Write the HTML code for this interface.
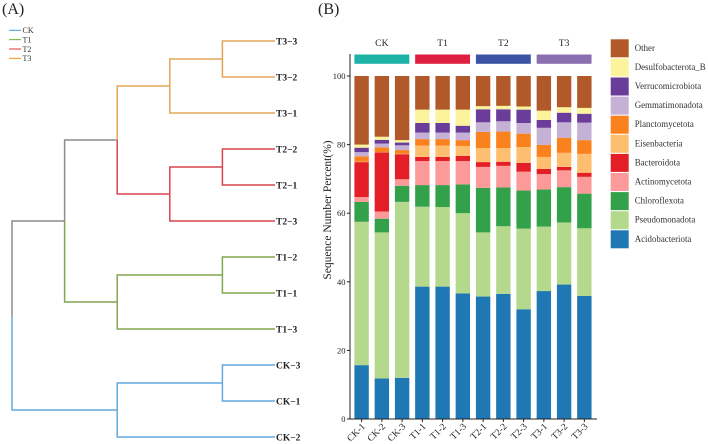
<!DOCTYPE html>
<html>
<head>
<meta charset="utf-8">
<title>Dendrogram and stacked bar chart</title>
<style>
html,body{margin:0;padding:0;background:#fff;width:708px;height:444px;overflow:hidden}
svg{display:block;font-family:"Liberation Serif",serif}
</style>
</head>
<body>
<svg id="figure" width="708" height="444" viewBox="0 0 708 444" xmlns="http://www.w3.org/2000/svg">
  <rect width="708" height="444" fill="#fff"/>
  <text x="2" y="14" font-size="16" fill="#222">(A)</text>
  <text x="318" y="14" font-size="16" fill="#222">(B)</text>
  <g id="dendro"></g>
  <g id="dendro-legend"></g>
  <g id="bars"></g>
  <g id="groups"></g>
  <g id="axes"></g>
  <g id="legend"></g>
  <text transform="translate(331,210) rotate(-90)" text-anchor="middle" font-size="11.5" fill="#222">Sequence Number Percent(%)</text>
</svg>
<script>
// ---------- stacked bar data ----------
const samples = ['CK-1','CK-2','CK-3','T1-1','T1-2','T1-3','T2-1','T2-2','T2-3','T3-1','T3-2','T3-3'];
const yTicks = [0,20,40,60,80,100];
const seriesNames = ['Acidobacteriota','Pseudomonadota','Chloroflexota','Actinomycetota','Bacteroidota','Eisenbacteria','Planctomycetota','Gemmatimonadota','Verrucomicrobiota','Desulfobacterota_B','Other'];
const seriesColors = ['#1F78B4','#B5D98C','#33A04A','#FB9A99','#E31E26','#FDBF6F','#F9821F','#C6B1D6','#6A3D9A','#FBF49C','#B15928'];
const acidobacteriota   = [15.7,11.8,12.0,38.6,38.6,36.6,35.7,36.5,32.0,37.3,39.2,35.9];
const pseudomonadota    = [41.8,42.6,51.3,23.3,23.2,23.4,18.7,19.7,23.5,18.8,18.1,19.7];
const chloroflexota     = [5.8,4.0,4.7,6.3,6.4,8.4,13.0,11.3,11.1,10.8,10.3,10.1];
const actinomycetota    = [1.4,2.1,1.9,7.0,7.0,6.8,6.1,6.3,5.5,4.5,4.9,4.9];
const bacteroidota      = [10.2,17.2,7.3,1.2,1.2,1.5,1.4,1.2,2.6,1.5,1.0,1.2];
const eisenbacteria     = [0.1,0.1,0.1,3.3,3.3,2.9,4.1,4.0,4.6,3.5,4.1,5.5];
const planctomycetota   = [1.6,1.4,1.1,1.9,1.9,1.7,4.7,4.8,3.9,3.5,4.4,4.0];
const gemmatimonadota   = [1.2,1.1,1.4,1.9,1.9,2.2,2.8,3.0,3.1,5.0,4.5,5.1];
const verrucomicrobiota = [1.3,1.1,0.8,2.8,2.8,2.0,3.8,3.5,3.9,2.3,2.8,2.6];
const desulfobacterota  = [0.9,0.9,0.7,3.9,3.9,4.7,0.9,1.0,0.9,2.7,1.6,1.7];
const other             = [20.0,17.7,18.7,9.8,9.8,9.8,8.8,8.7,8.9,10.1,9.1,9.3];
const seriesValues = [acidobacteriota,pseudomonadota,chloroflexota,actinomycetota,bacteroidota,eisenbacteria,planctomycetota,gemmatimonadota,verrucomicrobiota,desulfobacterota,other];
const groupNames = ['CK','T1','T2','T3'];
const groupColors = ['#1DB2A6','#DF1F3F','#3A53A4','#8A6FB0'];

// ---------- dendrogram data (heights are merge levels) ----------
const leafNames = ['T3\u22123','T3\u22122','T3\u22121','T2\u22122','T2\u22121','T2\u22123','T1\u22122','T1\u22121','T1\u22123','CK\u22123','CK\u22121','CK\u22122'];
const leafGroups = ['T3','T3','T3','T2','T2','T2','T1','T1','T1','CK','CK','CK'];
const mergeLeft   = ['T3\u22123','m0','T2\u22122','m2','m1','T1\u22122','m5','CK\u22123','m7','m4','m8'];
const mergeRight  = ['T3\u22122','T3\u22121','T2\u22121','T2\u22123','m3','T1\u22121','T1\u22123','CK\u22121','CK\u22122','m6','m9'];
const mergeHeight = [1,2,1,2,3,1,3,1,3,4,5];
const mergeGroup  = ['T3','T3','T2','T2','root','T1','T1','CK','CK','root','root'];
const legendGroups = ['CK','T1','T2','T3'];

const treeColors = {CK:'#62A8DF',T1:'#82A64E',T2:'#D9454F',T3:'#E2A557',root:'#8C8C8C'};
const legendLineColors = {CK:'#3B9BE8',T1:'#6FB02F',T2:'#E2332E',T3:'#F2951F'};

const NS = 'http://www.w3.org/2000/svg';
function mk(parent, tag, attrs, txt){
  const el = document.createElementNS(NS, tag);
  for (const k in attrs) el.setAttribute(k, attrs[k]);
  if (txt !== undefined) el.textContent = txt;
  parent.appendChild(el);
  return el;
}
function slug(s){ return s.toLowerCase().replace(/[^a-z0-9]+/g,'-'); }

// axis functions
const yScale = v => 419 - v * 3.43;
const barStep = 20.25, barWidth = 14.4;
const xScale = i => 354.4 + i * barStep;
const leafY = i => 41 + i * 36;
const treeX = h => 275 - h * 52.6;

// ---------- bars ----------
const barsG = document.getElementById('bars');
samples.forEach((name, i) => {
  let cum = 0;
  seriesValues.forEach((vals, s) => {
    const top = cum + vals[i];
    const r = mk(barsG, 'rect', {x:xScale(i), y:yScale(top), width:barWidth, height:yScale(cum)-yScale(top), fill:seriesColors[s]});
    
    
    cum = top;
  });
});

// ---------- group strips ----------
const groupsG = document.getElementById('groups');
groupNames.forEach((g, k) => {
  const x0 = xScale(k * 3), x1 = xScale(k * 3 + 2) + barWidth;
  const r = mk(groupsG, 'rect', {x:x0, y:54.5, width:x1-x0, height:9.3, fill:groupColors[k]});
  
  
  const t = mk(groupsG, 'text', {x:(x0+x1)/2, y:46, 'text-anchor':'middle', 'font-size':9.6, fill:'#222'}, g);
  
  
});

// ---------- axes ----------
const axesG = document.getElementById('axes');
const yLine = mk(axesG, 'line', {x1:350, y1:54, x2:350, y2:419.5, stroke:'#222', 'stroke-width':1});


const xLine = mk(axesG, 'line', {x1:349.5, y1:419, x2:597, y2:419, stroke:'#222', 'stroke-width':1});


yTicks.forEach(v => {
  const tk = mk(axesG, 'line', {x1:347, y1:yScale(v), x2:350, y2:yScale(v), stroke:'#222', 'stroke-width':1});
  
  
  const lb = mk(axesG, 'text', {x:345.5, y:yScale(v)+3, 'text-anchor':'end', 'font-size':8.5, fill:'#222'}, String(v));
  
  
});
samples.forEach((name, i) => {
  const cx = xScale(i) + barWidth / 2;
  const tk = mk(axesG, 'line', {x1:cx, y1:419, x2:cx, y2:422, stroke:'#222', 'stroke-width':1});
  
  
  const lb = mk(axesG, 'text', {transform:'translate(' + (cx+4) + ',427) rotate(-45)', 'text-anchor':'end', 'font-size':9.5, fill:'#222'}, name);
  
  
});

// ---------- phylum legend ----------
const legendG = document.getElementById('legend');
seriesNames.slice().reverse().forEach((name, k) => {
  const color = seriesColors[seriesNames.length - 1 - k];
  const y = 39.3 + k * 19.1;
  const r = mk(legendG, 'rect', {x:610.7, y:y, width:18, height:18, fill:color});
  
  
  const t = mk(legendG, 'text', {x:634.7, y:y+11.5, 'font-size':8.9, fill:'#333'}, name);
  
  
});

// ---------- dendrogram ----------
const dendroG = document.getElementById('dendro');
const nodes = {};
leafNames.forEach((n, i) => { nodes[n] = {x:treeX(0), y:leafY(i), group:leafGroups[i]}; });
function link(child, parentX, parentY){
  const p = mk(dendroG, 'path', {
    d:'M' + child.x + ' ' + child.y + 'H' + parentX + 'V' + parentY,
    fill:'none', stroke:treeColors[child.group], 'stroke-width':1.5
  });
  
  
}
mergeHeight.forEach((h, i) => {
  const a = nodes[mergeLeft[i]], b = nodes[mergeRight[i]];
  const px = treeX(h), py = (a.y + b.y) / 2;
  link(a, px, py);
  link(b, px, py);
  nodes['m' + i] = {x:px, y:py, group:mergeGroup[i]};
});
leafNames.forEach((n, i) => {
  const t = mk(dendroG, 'text', {x:276, y:leafY(i)+3.3, 'font-size':9.5, 'font-weight':'bold', fill:'#222'}, n);
  
  
});

// ---------- dendrogram legend ----------
const dlG = document.getElementById('dendro-legend');
legendGroups.forEach((g, k) => {
  const y = 30.3 + k * 9.35;
  const l = mk(dlG, 'line', {x1:9, y1:y, x2:21, y2:y, stroke:legendLineColors[g], 'stroke-width':1});
  
  
  const t = mk(dlG, 'text', {x:22.5, y:y+2.8, 'font-size':8, fill:'#333'}, g);
  
  
});
</script>
</body>
</html>
